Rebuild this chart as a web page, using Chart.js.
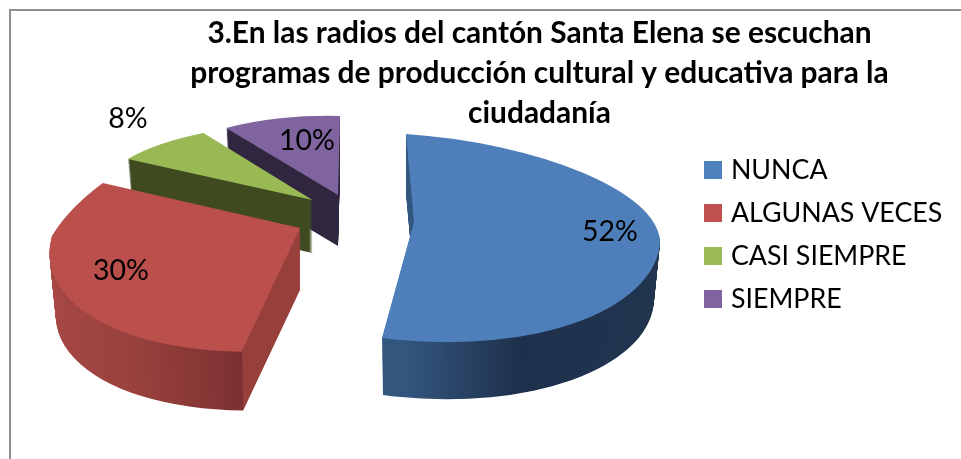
<!DOCTYPE html>
<html><head><meta charset="utf-8">
<style>html,body{margin:0;padding:0;background:#fff;overflow:hidden}canvas{display:block}</style>
<script src="https://cdn.jsdelivr.net/npm/chart.js@4"></script>
</head><body><canvas id="c" width="961" height="459"></canvas>
<script>
const titleLines = ["3.En las radios del cantón Santa Elena se escuchan","programas de producción cultural y educativa para la","ciudadanía"];
const categories = ["NUNCA","ALGUNAS VECES","CASI SIEMPRE","SIEMPRE"];
const percentages = [52,30,8,10];
const topColors = ["#4e7fba","#bb4f4c","#98b954","#7f649f"];
const legendColors = ["#4f81bd","#c0504d","#9bbb59","#8064a2"];
const FONT = "Lato, Carlito, sans-serif";

// Look of the 3D projection for each slice (styling, not data)
const drawOrder = [3,2,1,0];
const views = [
 {ax:414,ay:222,depth:60,pieces:[
   {clip:"up",m:[246,21,-0.6,87.4]},
   {clip:"down",m:[246,21,-9.7,118.4]}],
  side:[[0,"#335680"],[0.5,"#33567f"],[0.73,"#1e314c"],[1,"#21354f"]]},
 {ax:300,ay:228,depth:62,pieces:[
   {clip:"up",m:[248,-8,-78,132.9]},
   {clip:"down",m:[248,-8,-36,123.5]}],
  side:[[0,"#a84845"],[0.25,"#96403c"],[0.454,"#7c3031"],[0.455,"#973f3b"],[1,"#973f3b"]]},
 {ax:312.5,ay:200,depth:53,pieces:[{m:[213,12.3,-28,75.4]}],
  side:[[0,"#3f4a21"],[1,"#3f4a21"]]},
 {ax:338,ay:195,depth:51,pieces:[{m:[193,8,-8.8,78.8]}],
  side:[[0,"#30263f"],[1,"#30263f"]]}
];
const labelSpots = [[610,232,"#000"],[121,271,"#000"],[128,119,"#000"],[307,141,"#000"]];
const SHRINK = 0.025;

function paint(ctx, arc, v, bg, t){
  const R = arc.outerRadius, o = arc.options;
  arc.options = Object.create(o,{backgroundColor:{value:bg},borderWidth:{value:0}});
  const s = 1 - SHRINK*t/v.depth;
  v.pieces.forEach(p=>{
    ctx.save();
    ctx.translate(v.ax, v.ay+t);
    ctx.scale(s,s);
    ctx.transform(p.m[0]/R,p.m[1]/R,p.m[2]/R,p.m[3]/R,0,0);
    ctx.translate(-arc.x,-arc.y);
    if(p.clip){
      ctx.beginPath();
      if(p.clip==="up") ctx.rect(arc.x-2*R,arc.y-2*R,4*R,2*R+1);
      else ctx.rect(arc.x-2*R,arc.y-1,4*R,2*R+1);
      ctx.clip();
    }
    arc.draw(ctx);
    ctx.restore();
  });
  arc.options = o;
}

const pie3d = {
  id:"pie3d",
  beforeDraw(chart){
    const c = chart.ctx;
    c.save();
    c.fillStyle="#fff"; c.fillRect(0,0,961,459);
    c.fillStyle="#8e8e8e";
    c.fillRect(9,9,952,2);
    c.fillRect(9,9,2,450);
    c.restore();
  },
  afterLayout(chart){
    const t = chart.titleBlock;
    t.left = 118; t.right = 961; t.top = 13; t.bottom = 13 + t.height;
    const l = chart.legend, w = l.width;
    l.left = 692.3; l.right = l.left + w; l.top = 140.4; l.bottom = l.top + l.height;
  },
  beforeDatasetDraw(chart){
    const ctx = chart.ctx, arcs = chart.getDatasetMeta(0).data;
    drawOrder.forEach(i=>{
      const arc = arcs[i], v = views[i], R = arc.outerRadius;
      const g = ctx.createLinearGradient(arc.x-R,0,arc.x+R,0);
      v.side.forEach(st=>g.addColorStop(st[0],st[1]));
      for(let t=v.depth;t>=1;t--) paint(ctx,arc,v,g,t);
      paint(ctx,arc,v,topColors[i],0);
    });
    ctx.save();
    ctx.font = "28.5px "+FONT;
    ctx.textAlign="center"; ctx.textBaseline="middle";
    percentages.forEach((p,i)=>{
      ctx.fillStyle=labelSpots[i][2];
      ctx.fillText(p+"%",labelSpots[i][0],labelSpots[i][1]);
    });
    ctx.restore();
    return false;
  }
};

new Chart(document.getElementById("c"),{
  type:"pie",
  data:{labels:categories,datasets:[{data:percentages,backgroundColor:topColors,borderWidth:0}]},
  options:{
    responsive:false,animation:false,rotation:-2,
    layout:{padding:0},
    plugins:{
      tooltip:{enabled:false},
      title:{display:true,text:titleLines,color:"#000",align:"center",
        font:{family:FONT,size:29.9,weight:"bold",lineHeight:1.338},padding:0},
      legend:{display:true,position:"right",align:"start",
        labels:{color:"#000",font:{family:FONT,size:26.8},boxWidth:9,boxHeight:9,padding:16.2,
          generateLabels:()=>categories.map((n,i)=>({text:n,fillStyle:legendColors[i],strokeStyle:legendColors[i],lineWidth:9,index:i,hidden:false,fontColor:"#000"}))}}
    }
  },
  plugins:[pie3d]
});
</script></body></html>
